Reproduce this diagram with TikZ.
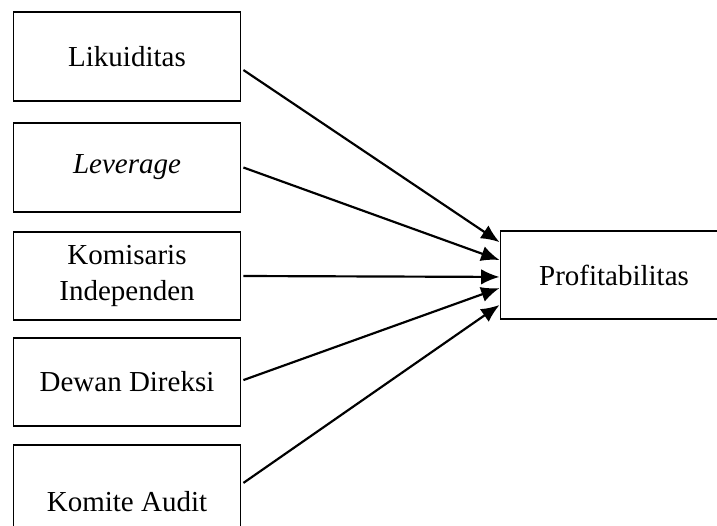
\documentclass[tikz,border=0pt]{standalone}
\usepackage{fontspec}
\setmainfont{Liberation Serif}
\usetikzlibrary{arrows.meta}

\begin{document}
\begin{tikzpicture}[x=0.414pt,y=-0.414pt]
    \clip (0,0) rectangle (717,526);
    \tikzset{varbox/.style = {%
        shape= rectangle,
        draw, line width=0.8pt,
        minimum width = 94pt,
        minimum height = 36.8pt,
        align= center,
        font= \fontsize{12}{14.5}\selectfont},
        panah/.style = {-{Latex[length=7.6pt,width=6.4pt]}, line width=0.9pt}}
    \node[varbox] (lik) at (127,56.5) {Likuiditas};
    \node[varbox] (lev) at (127,167.5) {\textit{Leverage}};
    \node[varbox] (kom) at (127,276) {Komisaris\\Independen};
    \node[varbox] (dew) at (127,382) {Dewan Direksi};
    \node[varbox,minimum height=47pt] (aud) at (127,502) {Komite Audit};
    \node[varbox] (prof) at (614,275) {Profitabilitas};
    \draw[panah] ([xshift=0.8pt,yshift=-5.6pt]lik.east) -- ([yshift=13.6pt]prof.west);
    \draw[panah] ([xshift=0.8pt]lev.east) -- ([yshift=6.2pt]prof.west);
    \draw[panah] ([xshift=0.8pt]kom.east) -- ([yshift=-0.8pt]prof.west);
    \draw[panah] ([xshift=0.8pt,yshift=0.8pt]dew.east) -- ([yshift=-5.4pt]prof.west);
    \draw[panah] ([xshift=0.8pt,yshift=7.9pt]aud.east) -- ([yshift=-12.4pt]prof.west);
 \end{tikzpicture}
\end{document}
